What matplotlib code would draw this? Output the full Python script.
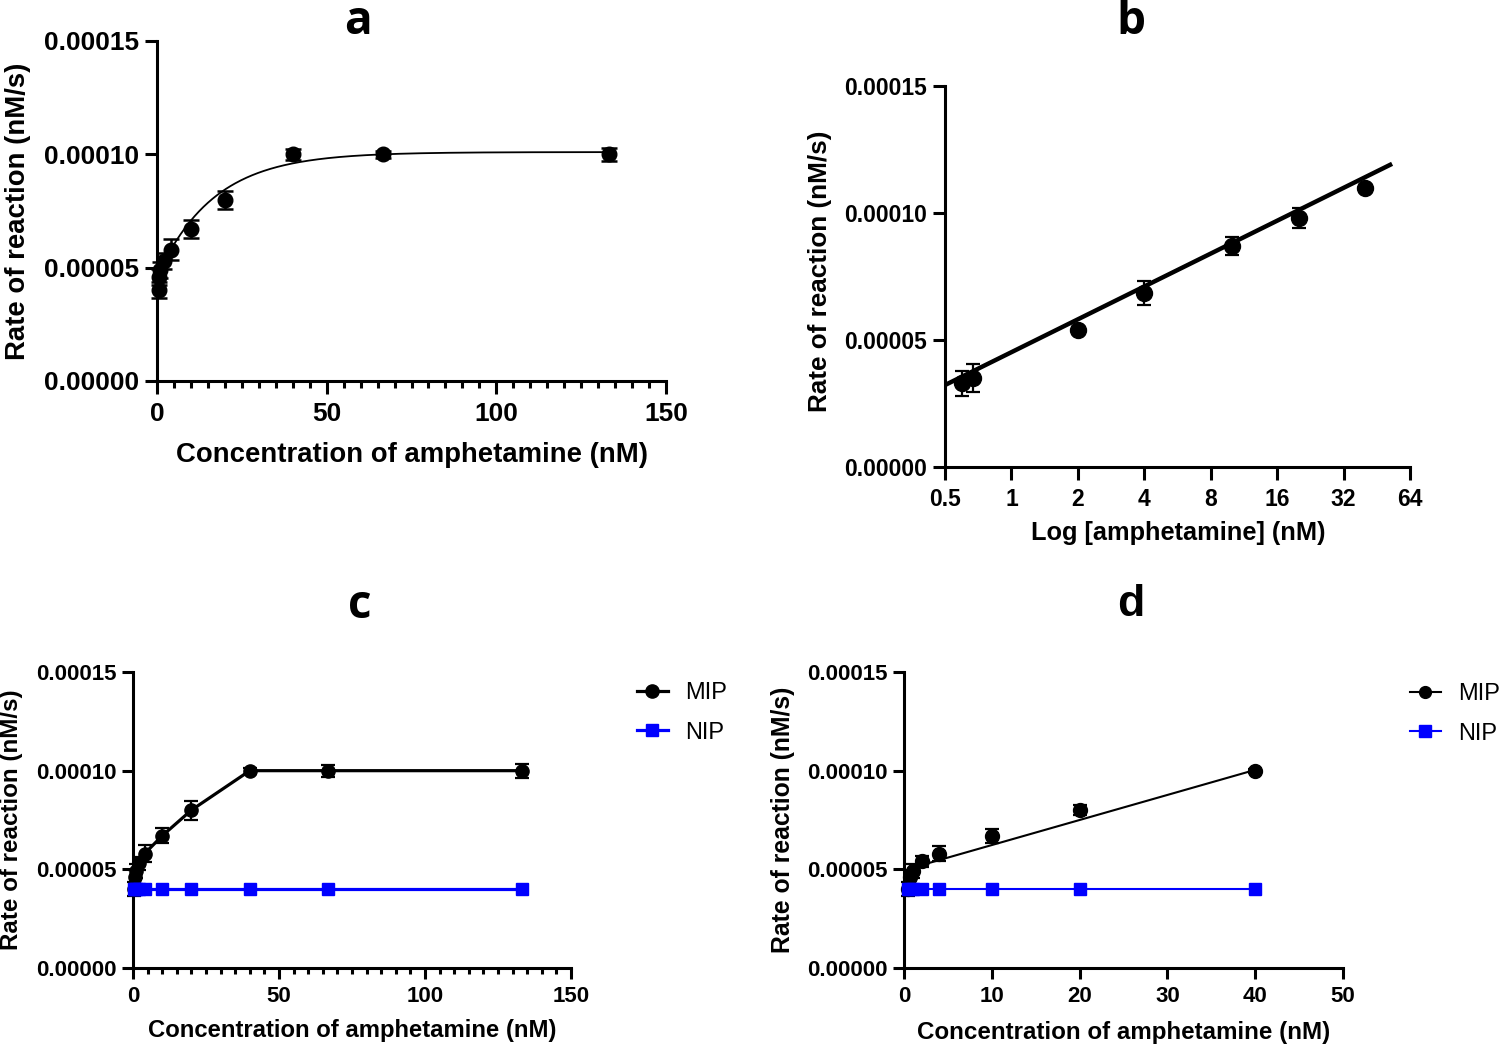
import numpy as np
import matplotlib
matplotlib.use('Agg')
import matplotlib.pyplot as plt
from matplotlib.ticker import FixedLocator, MultipleLocator, FuncFormatter, NullLocator
from matplotlib.lines import Line2D

# ---------------- data ----------------
conc_a = [0.5, 0.7, 1, 2, 4, 10, 20, 40, 66.7, 133.3]
rate_a = [4.0e-5, 4.6e-5, 4.9e-5, 5.3e-5, 5.8e-5, 6.7e-5, 8.0e-5, 1.0e-4, 1.0e-4, 1.0e-4]
err_a = [3.5e-6, 3.5e-6, 3.5e-6, 3.5e-6, 4.5e-6, 3.9e-6, 4.0e-6, 2.5e-6, 1.5e-6, 3.0e-6]
# one-phase association fit
a_y0, a_plateau, a_k = 4.6e-5, 1.01e-4, 0.06

conc_b = [0.6, 0.67, 2, 4, 10, 20, 40]
rate_b = [3.3e-5, 3.5e-5, 5.4e-5, 6.85e-5, 8.7e-5, 9.8e-5, 1.1e-4]
err_b = [4.9e-6, 5.4e-6, 1.0e-6, 4.6e-6, 3.6e-6, 3.9e-6, 1.0e-6]
# linear fit vs log2(conc): value at 1 nM and slope per doubling
b_at1, b_slope = 4.52e-5, 1.294e-5
b_fit_range = [0.5, 52]
b_ticks = [0.5, 1, 2, 4, 8, 16, 32, 64]
b_ticklabels = ['0.5', '1', '2', '4', '8', '16', '32', '64']

conc_c = [0.5, 0.7, 1, 2, 4, 10, 20, 40, 66.7, 133.3]
mip_c = [4.0e-5, 4.6e-5, 4.9e-5, 5.3e-5, 5.8e-5, 6.7e-5, 8.0e-5, 1.0e-4, 1.0e-4, 1.0e-4]
mip_err_c = [3.5e-6, 3.5e-6, 3.5e-6, 3.5e-6, 4.5e-6, 3.9e-6, 4.8e-6, 1.5e-6, 3.0e-6, 3.5e-6]
nip_c = [4.0e-5, 4.0e-5, 4.0e-5, 4.0e-5, 4.0e-5, 4.0e-5, 4.0e-5, 4.0e-5, 4.0e-5, 4.0e-5]

conc_d = [0.5, 0.7, 1, 2, 4, 10, 20, 40]
mip_d = [4.0e-5, 4.6e-5, 4.9e-5, 5.4e-5, 5.8e-5, 6.7e-5, 8.0e-5, 1.0e-4]
mip_err_d = [3.5e-6, 3.5e-6, 3.5e-6, 3.0e-6, 4.0e-6, 3.5e-6, 2.5e-6, 1.0e-6]
nip_d = [4.0e-5, 4.0e-5, 4.0e-5, 4.0e-5, 4.0e-5, 4.0e-5, 4.0e-5, 4.0e-5]
d_intercept, d_slope = 4.96e-5, 1.27e-6

y_ticks = [0.0, 0.00005, 0.00010, 0.00015]
series_names = ['MIP', 'NIP']

# ---------------- layout ----------------
W, H = 1505, 1050
fig = plt.figure(figsize=(W / 100, H / 100), dpi=100)
FONT = 'Liberation Sans'
BLUE = '#0000FF'


def box(l, t, r, b):
    return [l / W, 1 - b / H, (r - l) / W, (b - t) / H]


def ftext(x, y, s, **kw):
    fig.text(x / W, 1 - y / H, s, **kw)


def style(ax, tick_fs, major_len=9, minor_len=5):
    for sp in ['top', 'right']:
        ax.spines[sp].set_visible(False)
    for sp in ['left', 'bottom']:
        ax.spines[sp].set_linewidth(2.2)
        ax.spines[sp].set_capstyle('projecting')
    ax.tick_params(which='major', direction='out', length=major_len, width=2.2,
                   labelsize=tick_fs, pad=4)
    ax.tick_params(which='minor', direction='out', length=minor_len, width=2.2)
    ax.tick_params(axis='y', which='minor', length=0)
    ax.set_ylim(0, 0.00015)
    ax.yaxis.set_major_locator(FixedLocator(y_ticks))
    ax.yaxis.set_major_formatter(FuncFormatter(lambda v, p: f'{v:.5f}'))
    for lab in ax.get_xticklabels() + ax.get_yticklabels():
        lab.set_fontfamily(FONT)
        lab.set_fontweight('bold')


def legend_at(x, y, handles):
    fig.legend(handles, series_names, loc='upper left', bbox_to_anchor=(x / W, 1 - y / H),
               frameon=False, prop={'family': FONT, 'size': 17}, handlelength=1.3,
               handletextpad=0.75, labelspacing=0.75, borderpad=0, borderaxespad=0)


# ---------- panel a ----------
ax = fig.add_axes(box(157, 41, 666, 381))
xs = np.linspace(0, max(conc_a), 400)
ax.plot(xs, a_y0 + (a_plateau - a_y0) * (1 - np.exp(-a_k * xs)), color='black', lw=1.3, zorder=2)
ax.errorbar(conc_a, rate_a, yerr=err_a, fmt='o', color='black', ms=10.5, capsize=5.5,
            elinewidth=1.8, capthick=1.8, clip_on=False, zorder=3)
ax.set_xlim(0, 150)
ax.xaxis.set_major_locator(FixedLocator([0, 50, 100, 150]))
ax.xaxis.set_minor_locator(MultipleLocator(5))
style(ax, 19)
ax.tick_params(axis='x', pad=6)
ftext(358, 22, 'a', fontsize=33, fontweight='bold', family='Open Sans', ha='center', va='center')
ftext(412, 455, 'Concentration of amphetamine (nM)', fontsize=19.8, fontweight='bold', family=FONT,
      ha='center', va='center')
ftext(18, 211, 'Rate of reaction (nM/s)', fontsize=19.8, fontweight='bold', family=FONT,
      ha='center', va='center', rotation=90)

# ---------- panel b ----------
ax = fig.add_axes(box(945, 86, 1410, 467))
ax.set_xscale('log', base=2)
xf = np.array(b_fit_range)
ax.plot(xf, b_at1 + b_slope * np.log2(xf), color='black', lw=3.2, zorder=2)
ax.errorbar(conc_b, rate_b, yerr=err_b, fmt='o', color='black', ms=11.5, capsize=5,
            elinewidth=1.6, capthick=1.6, clip_on=False, zorder=3)
ax.set_xlim(0.5, 64)
ax.xaxis.set_major_locator(FixedLocator(b_ticks))
ax.xaxis.set_major_formatter(FuncFormatter(lambda v, p: b_ticklabels[b_ticks.index(v)] if v in b_ticks else ''))
ax.xaxis.set_minor_locator(NullLocator())
style(ax, 16.5)
ax.tick_params(axis='x', pad=6)
ftext(1131, 22, 'b', fontsize=33, fontweight='bold', family='Open Sans', ha='center', va='center')
ftext(1178, 533, 'Log [amphetamine] (nM)', fontsize=18.3, fontweight='bold', family=FONT,
      ha='center', va='center')
ftext(820, 271, 'Rate of reaction (nM/s)', fontsize=18.8, fontweight='bold', family=FONT,
      ha='center', va='center', rotation=90)

# ---------- panel c ----------
ax = fig.add_axes(box(133, 672, 571, 968))
ax.errorbar(conc_c, mip_c, yerr=mip_err_c, fmt='-o', color='black', ms=9.5, lw=2.3, capsize=5,
            elinewidth=1.6, capthick=1.6, clip_on=False, zorder=3)
ax.plot(conc_c, nip_c, '-s', color=BLUE, ms=8.5, lw=2.3, clip_on=False, zorder=4)
ax.set_xlim(0, 150)
ax.xaxis.set_major_locator(FixedLocator([0, 50, 100, 150]))
ax.xaxis.set_minor_locator(MultipleLocator(5))
style(ax, 16, major_len=8, minor_len=4.5)
ax.tick_params(axis='x', pad=5)
ftext(360, 605, 'c', fontsize=33, fontweight='bold', family='Open Sans', ha='center', va='center')
ftext(352, 1030, 'Concentration of amphetamine (nM)', fontsize=17.2, fontweight='bold', family=FONT,
      ha='center', va='center')
ftext(12, 820, 'Rate of reaction (nM/s)', fontsize=17.4, fontweight='bold', family=FONT,
      ha='center', va='center', rotation=90)
legend_at(637, 682, [Line2D([], [], color='black', marker='o', ms=9.5, lw=2.3),
                     Line2D([], [], color=BLUE, marker='s', ms=8.5, lw=2.3)])

# ---------- panel d ----------
ax = fig.add_axes(box(904, 672, 1343, 968))
xd = np.array([min(conc_d), max(conc_d)])
ax.plot(xd, d_intercept + d_slope * xd, color='black', lw=1.5, zorder=2)
ax.errorbar(conc_d, mip_d, yerr=mip_err_d, fmt='o', color='black', ms=10, capsize=5,
            elinewidth=1.6, capthick=1.6, clip_on=False, zorder=3)
ax.plot(conc_d, nip_d, '-s', color=BLUE, ms=9, lw=1.5, clip_on=False, zorder=4)
ax.set_xlim(0, 50)
ax.xaxis.set_major_locator(FixedLocator([0, 10, 20, 30, 40, 50]))
ax.xaxis.set_minor_locator(NullLocator())
style(ax, 16, major_len=8)
ax.tick_params(axis='x', pad=5)
ftext(1131, 605, 'd', fontsize=32, fontweight='bold', family=FONT, ha='center', va='center')
ftext(1124, 1033, 'Concentration of amphetamine (nM)', fontsize=17.4, fontweight='bold', family=FONT,
      ha='center', va='center')
ftext(783, 820, 'Rate of reaction (nM/s)', fontsize=17.8, fontweight='bold', family=FONT,
      ha='center', va='center', rotation=90)
legend_at(1410, 683, [Line2D([], [], color='black', marker='o', ms=8.5, lw=1.5),
                      Line2D([], [], color=BLUE, marker='s', ms=8, lw=1.5)])

fig.savefig('out.png', dpi=100)
